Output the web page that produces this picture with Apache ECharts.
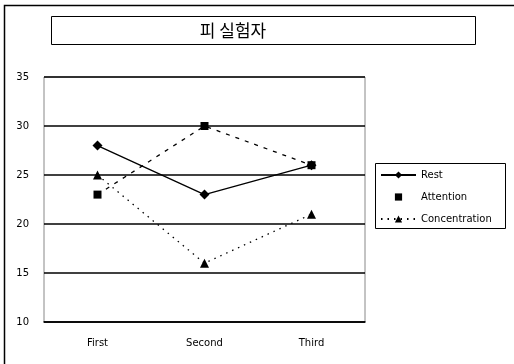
<!DOCTYPE html>
<html><head><meta charset="utf-8">
<script src="https://cdn.jsdelivr.net/npm/echarts@6/dist/echarts.min.js"></script>
<style>html,body{margin:0;padding:0;background:#fff}#c{width:514px;height:364px}</style>
</head><body><div id="c"></div>
<script>
const categories = ['First', 'Second', 'Third'];
const rest = [28, 23, 26];
const attention = [23, 30, 26];
const concentration = [25, 16, 21];
const titleText = '피 실험자';

const chart = echarts.init(document.getElementById('c'), null, {renderer: 'canvas'});
const font = 'DejaVu Sans';
chart.setOption({
  animation: false,
  backgroundColor: '#fff',
  graphic: [
    {type: 'rect', shape: {x: 4.5, y: 5.5, width: 520, height: 370}, style: {fill: 'none', stroke: '#000', lineWidth: 1.5}, silent: true},
    {type: 'rect', shape: {x: 51.5, y: 16.5, width: 424, height: 28}, style: {fill: '#fff', stroke: '#000', lineWidth: 1}, silent: true},
    {type: 'text', x: 233, y: 31, style: {text: titleText, font: '17px "Noto Sans CJK KR"', fill: '#000', align: 'center', verticalAlign: 'middle'}, silent: true},
    {type: 'rect', shape: {x: 375.5, y: 163.5, width: 130, height: 65}, style: {fill: '#fff', stroke: '#000', lineWidth: 1}, silent: true, z: 0}
  ],
  legend: {
    orient: 'vertical', left: 380, top: 170, itemWidth: 35, itemHeight: 9, itemGap: 12,
    padding: 0, z: 10,
    textStyle: {fontFamily: font, fontSize: 10, color: '#000'},
    data: [
      {name: 'Rest'},
      {name: 'Attention', lineStyle: {opacity: 0}},
      {name: 'Concentration'}
    ]
  },
  grid: {left: 44, top: 77, width: 321, height: 245, show: true, borderColor: '#888', borderWidth: 1},
  xAxis: {
    type: 'category', data: categories, boundaryGap: true,
    axisLine: {lineStyle: {color: '#000', width: 1.5}},
    axisTick: {inside: true, length: 3, lineStyle: {color: '#000'}},
    axisLabel: {fontFamily: font, fontSize: 10, color: '#000', margin: 16}
  },
  yAxis: {
    type: 'value', min: 10, max: 35, interval: 5,
    axisLine: {show: false}, axisTick: {show: false},
    axisLabel: {fontFamily: font, fontSize: 10, color: '#000', margin: 15},
    splitLine: {lineStyle: {color: '#000', width: 1.5}}
  },
  series: [
    {name: 'Rest', type: 'line', data: rest, symbol: 'diamond', symbolSize: 10,
     itemStyle: {color: '#000'}, lineStyle: {color: '#000', width: 1.3}},
    {name: 'Attention', type: 'line', data: attention, symbol: 'rect', symbolSize: 8,
     itemStyle: {color: '#000'}, lineStyle: {color: '#000', width: 1.3, type: [4, 6]}},
    {name: 'Concentration', type: 'line', data: concentration, symbol: 'triangle', symbolSize: 9,
     itemStyle: {color: '#000'}, lineStyle: {color: '#000', width: 1.3, type: [1.5, 5]}}
  ]
});
</script></body></html>
